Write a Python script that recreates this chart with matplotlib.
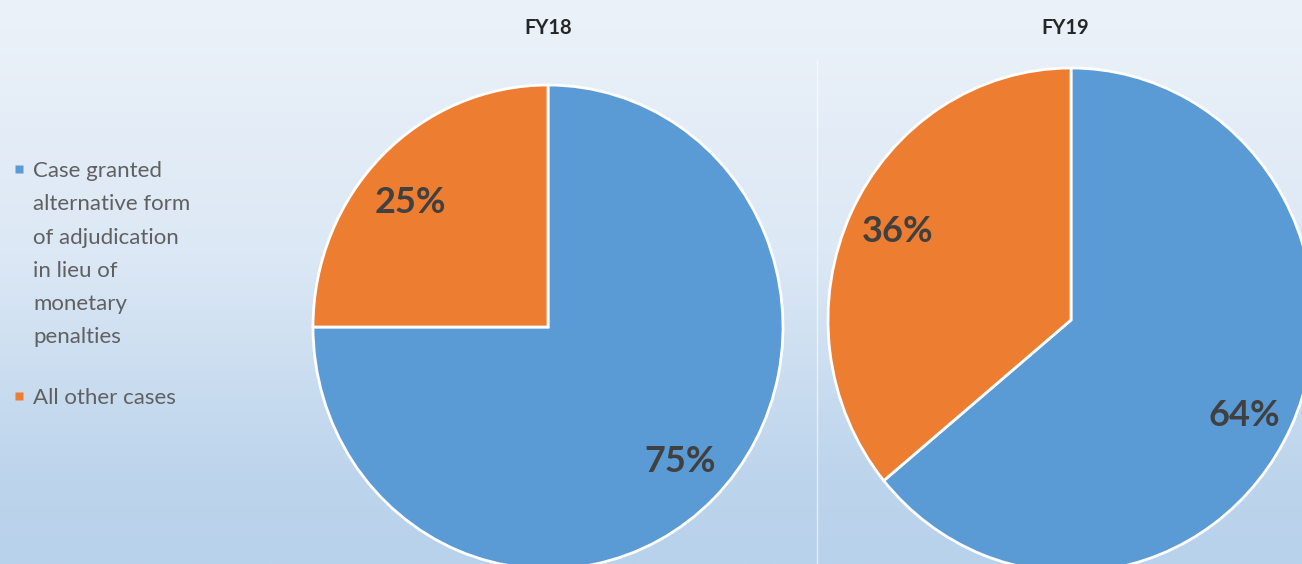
import numpy as np
import matplotlib
matplotlib.use('Agg')
import matplotlib.pyplot as plt
from matplotlib.colors import LinearSegmentedColormap

# chart data
years = ['FY18', 'FY19']
granted = [75, 64]
other = [25, 36]
legend_labels = ['Case granted\nalternative form\nof adjudication\nin lieu of\nmonetary\npenalties',
                 'All other cases']
colors = ['#5B9BD5', '#ED7D31']

W, H = 1302, 564
plt.rcParams['font.family'] = ['Lato', 'DejaVu Sans']
fig = plt.figure(figsize=(W / 100, H / 100), dpi=100)

# gradient background
bg = fig.add_axes([0, 0, 1, 1])
bg_cmap = LinearSegmentedColormap.from_list(
    'bg', [(0, '#ECF2F9'), (0.45, '#DCE8F5'), (0.85, '#BCD4EC'), (1, '#B9D2EB')])
bg.imshow(np.linspace(0, 1, 256).reshape(-1, 1), aspect='auto', cmap=bg_cmap,
          extent=[0, W, H, 0])
bg.set_xlim(0, W)
bg.set_ylim(H, 0)
bg.axis('off')
# faint divider between the two pies
bg.plot([817, 817], [60, H], color='white', lw=1, alpha=0.6)


def pie_axes(cx, cy, rx, ry):
    # axes spanning the (slightly stretched) pie, in pixel units
    return fig.add_axes([(cx - rx) / W, (H - cy - ry) / H, 2 * rx / W, 2 * ry / H])


pie_boxes = [(548, 327, 235, 242), (1071, 320, 243, 252)]
title_x = [548, 1065]
# small pixel nudges (right, down) for the % labels, as in the original layout
nudges = [[(1, -4), (-6, 8)], [(0, 8), (0, -7)]]

for i, yr in enumerate(years):
    cx, cy, rx, ry = pie_boxes[i]
    ax = pie_axes(cx, cy, rx, ry)
    wedges, texts, pcts = ax.pie(
        [granted[i], other[i]], colors=colors, startangle=90, counterclock=False,
        autopct='%1.0f%%', pctdistance=0.79,
        wedgeprops=dict(edgecolor='white', linewidth=2),
        textprops=dict(fontsize=26, fontweight='bold', color='#404040'))
    for t, (dx, dy) in zip(pcts, nudges[i]):
        t.set_va('center_baseline')
        x, y = t.get_position()
        t.set_position((x + dx / rx, y - dy / ry))
    ax.set_aspect('auto')
    ax.set_xlim(-1, 1)
    ax.set_ylim(-1, 1)
    ax.axis('off')
    fig.text(title_x[i] / W, 1 - 28 / H, yr, ha='center', va='center',
             fontsize=14.5, fontweight='bold', color='#262626')

# legend drawn by hand so the marker sits on the first line
leg_y = [169, 396]
for lab, c, y in zip(legend_labels, colors, leg_y):
    bg.plot(19, y, marker='s', ms=5.5, color=c, mec='none')
    bg.text(33, y - 8, lab, ha='left', va='top', fontsize=16, color='#606060',
            linespacing=1.83)

fig.savefig('out.png', dpi=100)
